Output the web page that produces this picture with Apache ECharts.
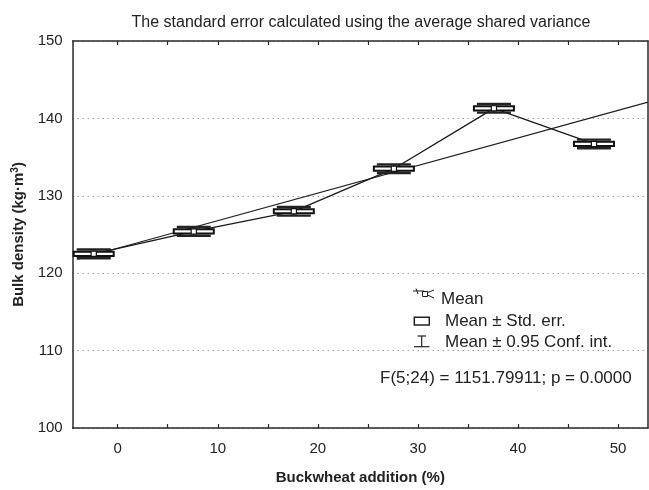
<!DOCTYPE html>
<html>
<head>
<meta charset="utf-8">
<script src="https://cdn.jsdelivr.net/npm/echarts@6/dist/echarts.min.js"></script>
<style>
html,body{margin:0;padding:0;background:#fff;}
#chart{width:649px;height:490px;}
</style>
</head>
<body>
<div id="chart"></div>
<script>
// ---- data ----
var categories = [0, 10, 20, 30, 40, 50];              // buckwheat addition (%)
var plotX = [-2.4, 7.6, 17.6, 27.6, 37.6, 47.6];        // positions where the means are drawn
var means = [122.5, 125.4, 128.0, 133.5, 141.3, 136.7];
var stdErr = [0.27, 0.27, 0.27, 0.27, 0.27, 0.27];
var confInt = [0.56, 0.56, 0.56, 0.56, 0.56, 0.56];
var regX = [-4, 53];
var regY = [121.8, 142.1];
var xTickValues = [0, 5, 10, 15, 20, 25, 30, 35, 40, 45, 50];
var xLabelValues = [0, 10, 20, 30, 40, 50];
var titleText = 'The standard error calculated using the average shared variance';
var legendTexts = ['Mean', 'Mean \u00b1 Std. err.', 'Mean \u00b1 0.95 Conf. int.'];
var statText = 'F(5;24) = 1151.79911; p = 0.0000';

var FONT = '"Liberation Sans", Arial, Helvetica, sans-serif';
var AX = '#2a2a2a';

var boxData = plotX.map(function (x, i) { return [x, means[i], stdErr[i], confInt[i]]; });
var meanLine = plotX.map(function (x, i) { return [x, means[i]]; });
var regLine = regX.map(function (x, i) { return [x, regY[i]]; });

var chart = echarts.init(document.getElementById('chart'), null, {renderer: 'canvas'});

var option = {
  animation: false,
  backgroundColor: '#fff',
  textStyle: {fontFamily: FONT},
  grid: {left: 72.7, right: 1, top: 41, bottom: 57, containLabel: false},
  xAxis: [{
    type: 'value', min: -4.5, max: 53, position: 'bottom',
    axisLine: {show: true, onZero: false, lineStyle: {color: AX, width: 1.5}},
    axisTick: {show: true, inside: true, length: 4, customValues: xTickValues, lineStyle: {color: AX, width: 1.2}},
    axisLabel: {show: true, customValues: xLabelValues, margin: 13, fontSize: 15, color: '#222', fontFamily: FONT},
    splitLine: {show: false},
    name: 'Buckwheat addition (%)', nameLocation: 'middle', nameGap: 42,
    nameTextStyle: {fontSize: 15, fontWeight: 'bold', color: '#222', fontFamily: FONT}
  }, {
    type: 'value', min: -4.5, max: 53, position: 'top',
    axisLine: {show: true, onZero: false, lineStyle: {color: AX, width: 1.5}},
    axisTick: {show: true, inside: true, length: 4, customValues: xTickValues, lineStyle: {color: AX, width: 1.2}},
    axisLabel: {show: false},
    splitLine: {show: false}
  }],
  yAxis: [{
    type: 'value', min: 100, max: 150, interval: 10, position: 'left',
    axisLine: {show: true, onZero: false, lineStyle: {color: AX, width: 1.5}},
    axisTick: {show: false},
    axisLabel: {margin: 10, fontSize: 15, color: '#222', fontFamily: FONT},
    splitLine: {show: true, lineStyle: {color: '#777', width: 1, type: [1, 4]}},
    name: 'Bulk density (kg\u00b7m{sup|3})', nameLocation: 'middle', nameGap: 46, nameRotate: 90,
    nameTextStyle: {fontSize: 15, fontWeight: 'bold', color: '#222', fontFamily: FONT,
      rich: {sup: {fontSize: 10, fontWeight: 'bold', color: '#222', verticalAlign: 'top', padding: [0, 0, 6, 0], fontFamily: FONT}}}
  }, {
    type: 'value', min: 100, max: 150, interval: 10, position: 'right',
    axisLine: {show: true, onZero: false, lineStyle: {color: AX, width: 1.5}},
    axisTick: {show: false}, axisLabel: {show: false}, splitLine: {show: false}
  }],
  series: [{
    name: 'Regression', type: 'line', data: regLine, symbol: 'none',
    lineStyle: {color: '#222', width: 1.1}, z: 2, silent: true
  }, {
    name: 'Mean', type: 'line', data: meanLine, symbol: 'none',
    lineStyle: {color: '#1a1a1a', width: 1.3}, z: 3, silent: true
  }, {
    name: 'Boxes', type: 'custom', data: boxData, z: 5,
    encode: {x: 0, y: 1},
    renderItem: function (params, api) {
      var x = api.value(0), m = api.value(1), se = api.value(2), ci = api.value(3);
      var c = api.coord([x, m]);
      var top = api.coord([x, m + se])[1], bot = api.coord([x, m - se])[1];
      var ciT = api.coord([x, m + ci])[1], ciB = api.coord([x, m - ci])[1];
      var hw = 20, cw = 17, ms = 2.6;
      return {type: 'group', children: [
        {type: 'line', shape: {x1: c[0], y1: ciT, x2: c[0], y2: ciB}, style: {stroke: '#222', lineWidth: 1.2}},
        {type: 'rect', shape: {x: c[0] - hw, y: top, width: 2 * hw, height: bot - top},
          style: {fill: '#fff', stroke: '#111', lineWidth: 2}},
        {type: 'line', shape: {x1: c[0] - cw, y1: ciT, x2: c[0] + cw, y2: ciT}, style: {stroke: '#222', lineWidth: 2.4}},
        {type: 'line', shape: {x1: c[0] - cw, y1: ciB, x2: c[0] + cw, y2: ciB}, style: {stroke: '#222', lineWidth: 2.4}},
        {type: 'rect', shape: {x: c[0] - ms, y: c[1] - ms, width: 2 * ms, height: 2 * ms},
          style: {fill: '#fff', stroke: '#111', lineWidth: 1.2}}
      ]};
    }
  }],
  graphic: [
    {type: 'text', x: 361, y: 23, style: {text: titleText, font: '16px ' + FONT, fill: '#222',
      align: 'center', verticalAlign: 'middle', textAlign: 'center', textVerticalAlign: 'middle'}},
    // legend: Mean icon
    {type: 'polyline', shape: {points: [[413, 291], [424, 291]]}, style: {stroke: '#222', lineWidth: 1, fill: null}},
    {type: 'line', shape: {x1: 416, y1: 288.5, x2: 418, y2: 294}, style: {stroke: '#222', lineWidth: 1}},
    {type: 'line', shape: {x1: 427.5, y1: 292.5, x2: 434, y2: 290}, style: {stroke: '#222', lineWidth: 1}},
    {type: 'line', shape: {x1: 427.5, y1: 295, x2: 434, y2: 298}, style: {stroke: '#222', lineWidth: 1}},
    {type: 'rect', shape: {x: 422.5, y: 291.5, width: 5, height: 5}, style: {fill: '#fff', stroke: '#222', lineWidth: 1}},
    {type: 'text', x: 441, y: 299, style: {text: legendTexts[0], font: '17px ' + FONT, fill: '#222',
      verticalAlign: 'middle', textVerticalAlign: 'middle'}},
    // legend: std err icon
    {type: 'rect', shape: {x: 414.3, y: 317.3, width: 15, height: 7.7}, style: {fill: '#fff', stroke: '#222', lineWidth: 1.5}},
    {type: 'text', x: 445, y: 321, style: {text: legendTexts[1], font: '17px ' + FONT, fill: '#222',
      verticalAlign: 'middle', textVerticalAlign: 'middle'}},
    // legend: conf int icon
    {type: 'line', shape: {x1: 417.5, y1: 336, x2: 426, y2: 336}, style: {stroke: '#222', lineWidth: 1.2}},
    {type: 'line', shape: {x1: 421.7, y1: 336, x2: 421.7, y2: 346.7}, style: {stroke: '#222', lineWidth: 1.2}},
    {type: 'line', shape: {x1: 414, y1: 346.7, x2: 429.5, y2: 346.7}, style: {stroke: '#222', lineWidth: 1.2}},
    {type: 'text', x: 445, y: 342, style: {text: legendTexts[2], font: '17px ' + FONT, fill: '#222',
      verticalAlign: 'middle', textVerticalAlign: 'middle'}},
    {type: 'text', x: 380, y: 378.5, style: {text: statText, font: '17px ' + FONT, fill: '#222',
      verticalAlign: 'middle', textVerticalAlign: 'middle'}}
  ]
};
chart.setOption(option);
</script>
</body>
</html>
